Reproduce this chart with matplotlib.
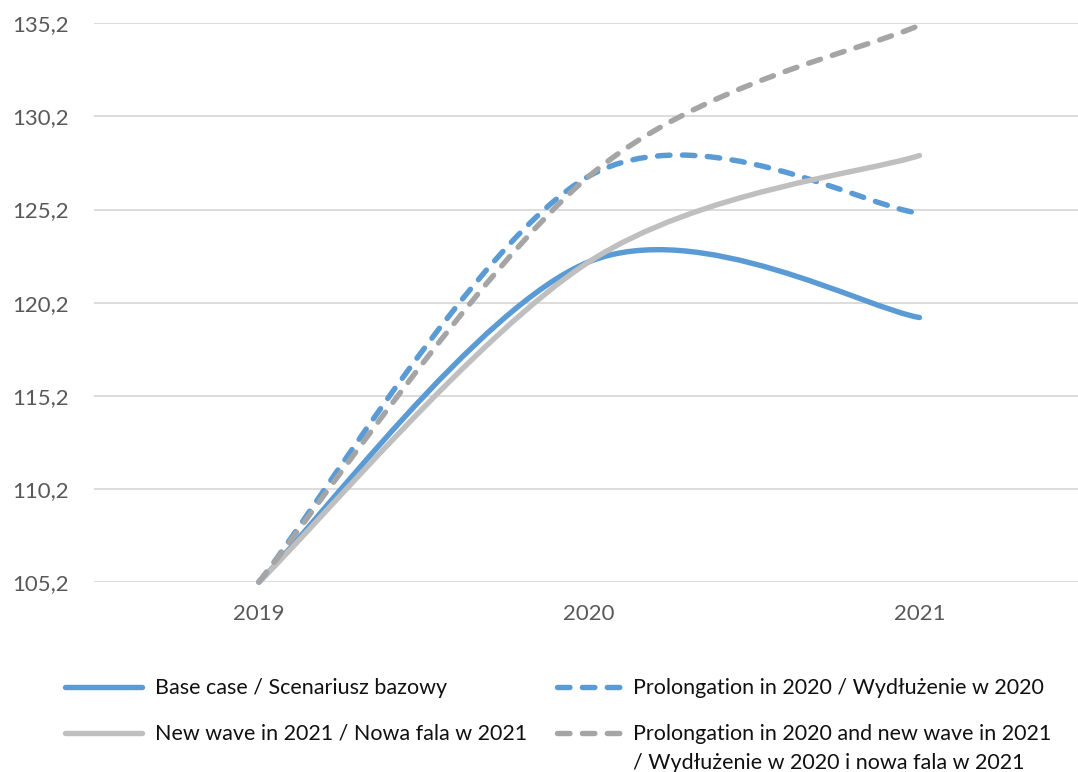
import numpy as np
import matplotlib.pyplot as plt
from matplotlib.path import Path
from matplotlib.patches import PathPatch
from matplotlib.lines import Line2D

years = [2019, 2020, 2021]
base_case = [105.2, 122.4, 119.4]
prolongation = [105.2, 127.0, 125.0]
new_wave = [105.2, 122.4, 128.1]
prolongation_new_wave = [105.2, 127.0, 135.1]

labels = [
    'Base case / Scenariusz bazowy',
    'Prolongation in 2020 / Wydłużenie w 2020',
    'New wave in 2021 / Nowa fala w 2021',
    'Prolongation in 2020 and new wave in 2021\n/ Wydłużenie w 2020 i nowa fala w 2021',
]
y_ticks = [105.2, 110.2, 115.2, 120.2, 125.2, 130.2, 135.2]

BLUE = '#5B9BD5'
LIGHT_GREY = '#BFBFBF'
GREY = '#A5A5A5'
LW = 3.9
DASH = (0, (2.3, 2.3))

styles = [
    dict(color=BLUE, linestyle='-'),
    dict(color=BLUE, linestyle=DASH),
    dict(color=LIGHT_GREY, linestyle='-'),
    dict(color=GREY, linestyle=DASH),
]


def smooth_path(x, y):
    # smoothed line: cubic bezier segments with catmull-rom style tangents
    pts = np.column_stack([x, y]).astype(float)
    n = len(pts)
    verts = [pts[0]]
    codes = [Path.MOVETO]
    for i in range(n - 1):
        p0 = pts[max(i - 1, 0)]
        p1 = pts[i]
        p2 = pts[i + 1]
        p3 = pts[min(i + 2, n - 1)]
        verts += [p1 + (p2 - p0) / 6, p2 - (p3 - p1) / 6, p2]
        codes += [Path.CURVE4] * 3
    return Path(verts, codes)


plt.rcParams['font.family'] = ['Lato', 'DejaVu Sans']

W, H = 1078, 772
fig = plt.figure(figsize=(W / 100, H / 100), dpi=100)
ax = fig.add_axes([93.75 / W, 1 - 582 / H, 1 - 93.75 / W, (582 - 23.3) / H])

series = [base_case, prolongation, new_wave, prolongation_new_wave]
for vals, st in zip(series, styles):
    patch = PathPatch(smooth_path(years, vals), fill=False, edgecolor=st['color'],
                      linewidth=LW, linestyle=st['linestyle'], capstyle='round',
                      joinstyle='round', clip_on=False, zorder=3)
    ax.add_patch(patch)

ax.set_xlim(2018.5, 2021.48)
ax.set_ylim(105.2, 135.2)
ax.set_xticks(years)
ax.set_xticklabels([str(y) for y in years])
ax.set_yticks(y_ticks)
ax.set_yticklabels([f'{v:.1f}'.replace('.', ',') for v in y_ticks])
ax.grid(axis='y', color='#D9D9D9', linewidth=1.3)
ax.set_axisbelow(True)
for s in ax.spines.values():
    s.set_visible(False)
ax.tick_params(length=0, labelsize=16, labelcolor='#595959')
ax.tick_params(axis='y', pad=18)
ax.tick_params(axis='x', pad=16)

# legend, laid out by hand: two columns, handle aligned with the first text line
entries = [
    (65, 142, 155, 687),
    (557, 620, 633, 687),
    (65, 142, 155, 733),
    (557, 620, 633, 733),
]
for (x0, x1, tx, y), st, lab in zip(entries, styles, labels):
    fig.add_artist(Line2D([x0 / W, x1 / W], [1 - y / H, 1 - y / H], transform=fig.transFigure,
                          color=st['color'], linewidth=LW, linestyle=st['linestyle'],
                          solid_capstyle='round', dash_capstyle='round'))
    for i, line in enumerate(lab.split('\n')):
        fig.text(tx / W, 1 - (y + 7 + 29 * i) / H, line, fontsize=15.5, color='#111111',
                 va='baseline', transform=fig.transFigure)

fig.savefig('out.png', dpi=100)
